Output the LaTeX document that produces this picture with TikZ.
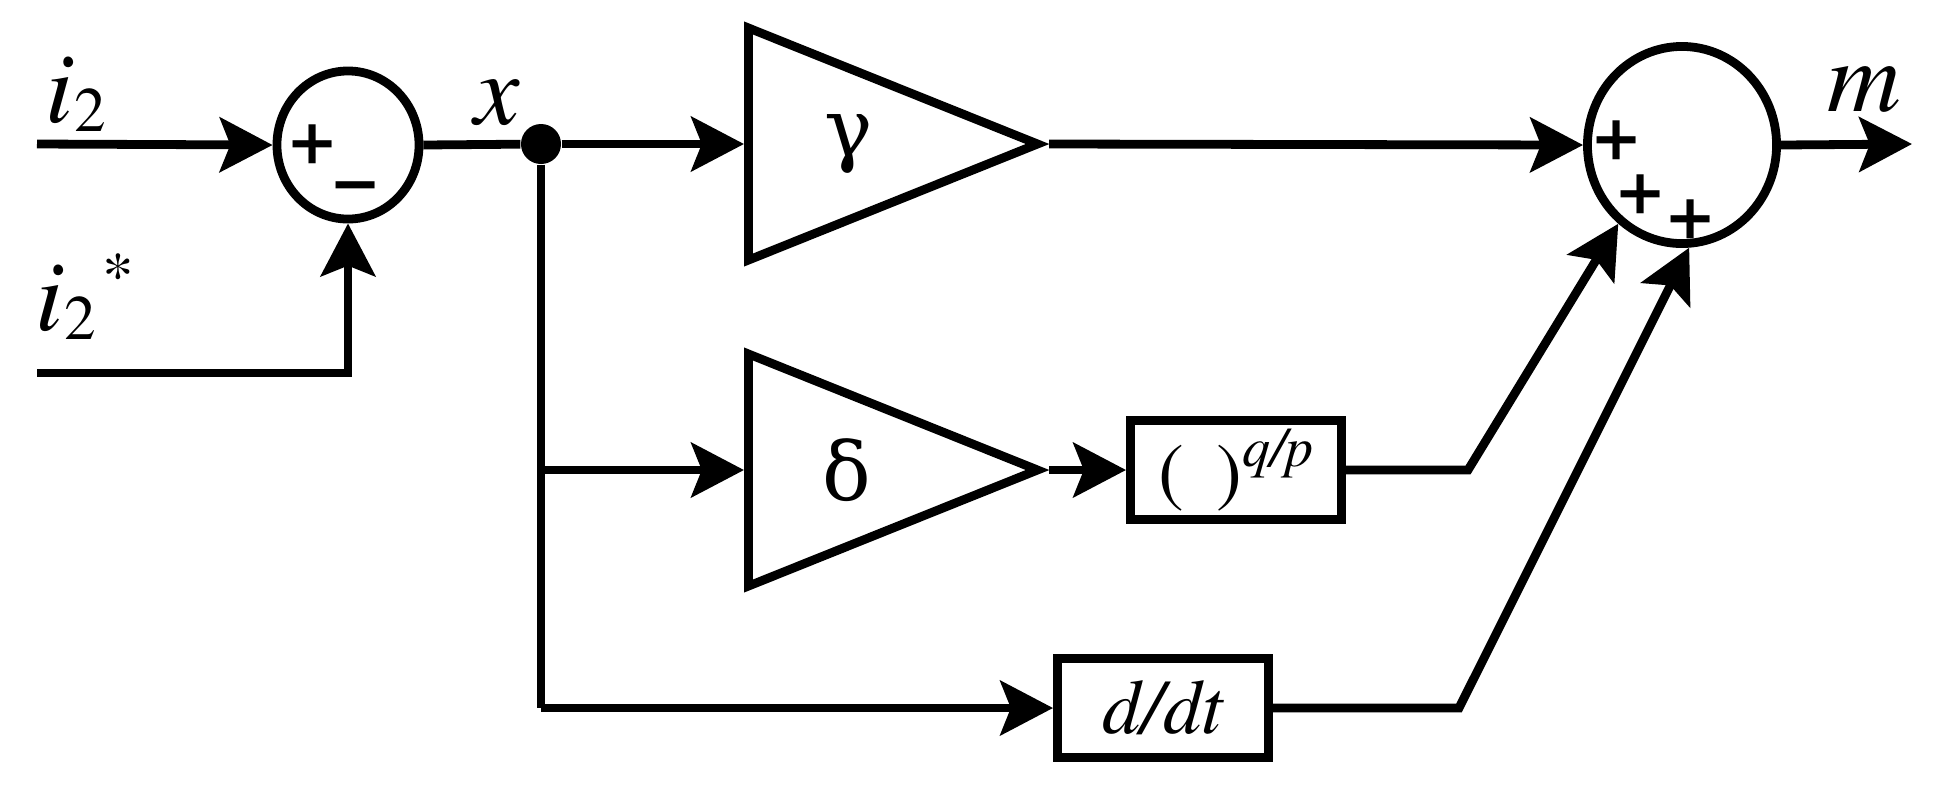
\documentclass[tikz,border=0pt]{standalone}
\usepackage{fontspec}
\setmainfont{TeX Gyre Termes}
\newfontfamily\greekfont{DejaVu Serif}
\usetikzlibrary{shapes.geometric, arrows.meta}
\tikzset{
  sig/.style={line width=2.5pt},
  arr/.style={
    sig, -{Stealth[length=15pt, width=15.5pt, inset=3pt]}
  },
  sumNode/.style={
    ellipse, draw, line width=2.5pt, inner sep=0pt
  },
  gainTri/.style={
    isosceles triangle, isosceles triangle stretches,
    draw, line width=2.5pt, inner sep=0pt,
    minimum width=2.32cm, minimum height=2.89cm,
    anchor=lower side, font=\fontsize{23}{27}\selectfont\greekfont
  },
  opBox/.style={
    rectangle, draw, line width=2.5pt, inner sep=0pt,
    minimum width=2.11cm, minimum height=0.99cm,
    font=\fontsize{22}{26}\selectfont\itshape
  },
  sigLabel/.style={
    font=\fontsize{29}{33}\selectfont\itshape, inner sep=0pt
  },
  signLabel/.style={
    font=\fontsize{23}{27}\selectfont\bfseries, inner sep=0pt
  },
  tapDot/.style={
    circle, fill, minimum size=0.4cm, inner sep=0pt
  }
}
\newcommand{\lowtwo}{\raisebox{-2.8pt}{\fontsize{18}{20}\selectfont\upshape 2}}

\begin{document}
\begin{tikzpicture}[x=0.01cm, y=-0.01cm]
\useasboundingbox (0,0) rectangle (1934,793);

%% ==============================================================
%% Blocks
%% ==============================================================

% --- error summer ---
\node[sumNode, minimum width=1.42cm, minimum height=1.48cm] (sumA) at (348,145) {};
\node[signLabel] (plusA) at (313,145) {+};
\node[signLabel] (minusA) at (356,194) {−};

% --- branch point ---
\node[tapDot] (tap) at (541,144) {};

% --- gains ---
\node[gainTri] (gamma) at (744,144) {\hspace{0.42cm}γ};
\node[gainTri] (delta) at (744,470) {\hspace{0.42cm}δ};

% --- power and derivative ---
\node[opBox] (pow) at (1236,470) {\upshape(\hspace{0.42em})\raisebox{9pt}{\fontsize{16}{18}\selectfont\itshape q/p}};
\node[opBox] (ddt) at (1163,708) {d/dt};

% --- output summer ---
\node[sumNode, minimum width=1.89cm, minimum height=1.97cm] (sumB) at (1682,145) {};
\node[signLabel] (plusB1) at (1617,141) {+};
\node[signLabel] (plusB2) at (1641,195) {+};
\node[signLabel] (plusB3) at (1691,220) {+};

%% ==============================================================
%% Signal labels
%% ==============================================================
\node[sigLabel, anchor=base west] (lblRef) at (45,122) {i\lowtwo};
\node[sigLabel, anchor=base west] (lblMeas) at (35,330)
  {i\lowtwo\hspace{2pt}\raisebox{9.5pt}{\fontsize{18}{20}\selectfont\upshape *}};
\node[sigLabel, anchor=base] (lblX) at (497,124) {x};
\node[sigLabel, anchor=base] (lblM) at (1864,111) {m};

%% ==============================================================
%% Connectors
%% ==============================================================
\coordinate (inA) at (37,144);
\coordinate (inB) at (37,373);
\coordinate (outM) at (1912,144);
\coordinate (brDelta) at (541,470);
\coordinate (brDdt) at (541,708);
\coordinate (bendPow) at (1468,470);
\coordinate (bendDdt) at (1459,708);

% inputs to error summer
\draw[arr] (inA) -- (sumA.west);
\draw[arr] (inB) -| (sumA.south);

% error to branch point
\draw[sig] (sumA.east) -- (tap);
\draw[sig] (tap) -- (brDdt);

% branches
\draw[arr] (tap) -- (gamma.lower side);
\draw[arr] (brDelta) -- (delta.lower side);
\draw[arr] (brDdt) -- (ddt.west);
\draw[arr] (delta.apex) -- (pow.west);

% into output summer
\draw[arr] (gamma.apex) -- (sumB.west);
\draw[arr] (pow.east) -- (bendPow) -- (sumB.-129);
\draw[arr] (ddt.east) -- (bendDdt) -- (sumB.-86);

% output
\draw[arr] (sumB.east) -- (outM);

\end{tikzpicture}
\end{document}
